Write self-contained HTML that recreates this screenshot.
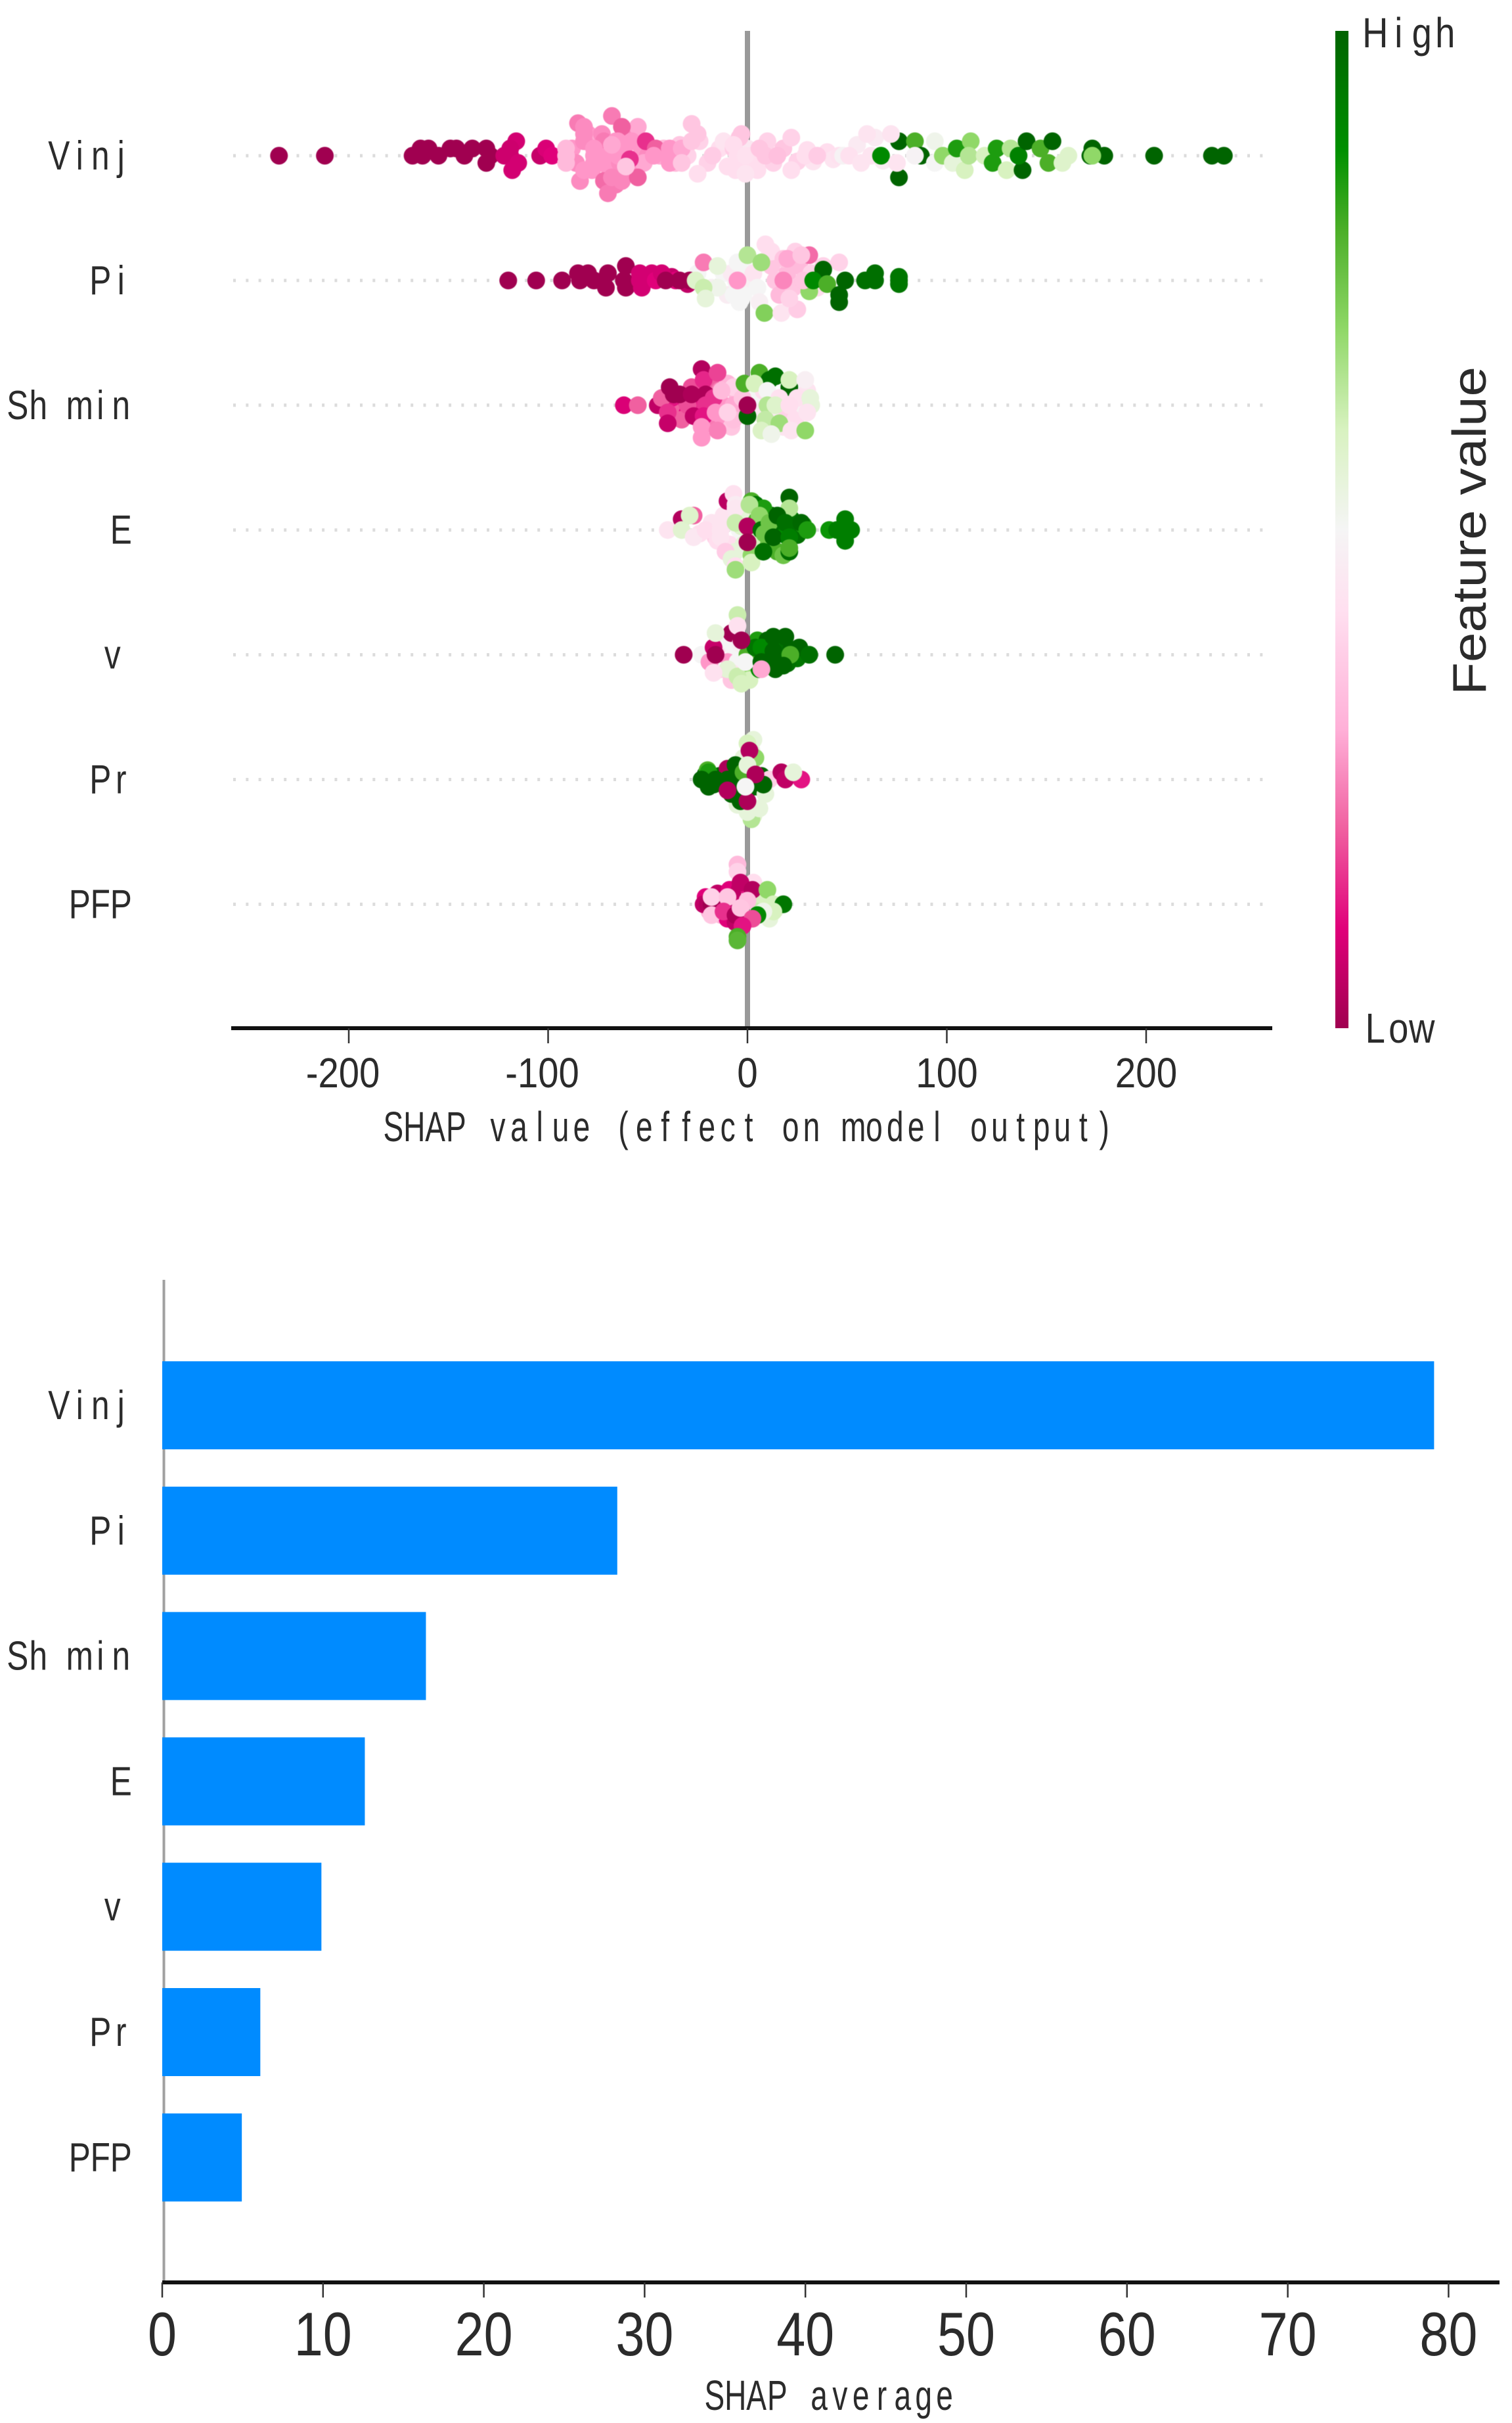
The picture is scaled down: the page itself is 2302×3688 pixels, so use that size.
<!DOCTYPE html>
<html lang="en">
<head>
<meta charset="utf-8">
<title>SHAP summary and average importance</title>
<style>
html,body{margin:0;padding:0;background:#fff;width:2302px;height:3688px;overflow:hidden}
svg{display:block}
text{fill:#2b2b2b}
.sans{font-family:"Liberation Sans","Noto Sans CJK SC",sans-serif}
</style>
</head>
<body>
<svg id="chart" xmlns="http://www.w3.org/2000/svg" width="2302" height="3688" viewBox="0 0 2302 3688">
  <defs>
    <linearGradient id="cbar" x1="0" y1="0" x2="0" y2="1">
      <stop offset="0" stop-color="#006400"/>
      <stop offset="0.12" stop-color="#009000"/>
      <stop offset="0.2" stop-color="#4caf28"/>
      <stop offset="0.3" stop-color="#90d868"/>
      <stop offset="0.4" stop-color="#d8f2c0"/>
      <stop offset="0.5" stop-color="#f5f5f5"/>
      <stop offset="0.58" stop-color="#ffe0f0"/>
      <stop offset="0.7" stop-color="#ffb0d8"/>
      <stop offset="0.8" stop-color="#f060a0"/>
      <stop offset="0.9" stop-color="#e0007a"/>
      <stop offset="1" stop-color="#a00050"/>
    </linearGradient>
  </defs>
  <rect width="2302" height="3688" fill="#fff"/>
  <g id="top"></g>
  <g id="cb">
    <rect x="2033" y="47" width="20" height="1518" fill="url(#cbar)"/>
    <text class="sans" transform="translate(2262,808) rotate(-90)" text-anchor="middle" font-size="72" textLength="500" lengthAdjust="spacingAndGlyphs">Feature value</text>
  </g>
  <g id="bottom"></g>
</svg>
<script>
const features = ["Vinj","Pi","Sh min","E","v","Pr","PFP"];
const shapTicks = [-200,-100,0,100,200];
const avgTicks = [0,10,20,30,40,50,60,70,80];
const shapAverage = [79.1,28.3,16.4,12.6,9.9,6.1,4.95];

const vinjShap = [-88,-86,-80,-78,-75,-73,-72,-70,-66,-62,-60,-57,-53,-50,-74,-78,-69,-64,-60,-72,-66,-58,-52,-44,-42,-36,-34,-30,-24,-20,-14,-10,-12,-6,-4,0,3,5,10,13,18,25,30,33,40,43,55,62,64,68,
-235,-212,-168,-164,-160,-163,-155,-149,-146,-142,-138,-131,-131,-129,-122,-119,-116,-119,-115,-118,-104,-101,-98,-91,-91,-91,-85,-82,-82,-82,-84,-82,-77,-77,-77,-68,-70,-68,-63,-55,-55,-63,-58,-65,-65,-59,-51,-46,-47,-68,-61,-39,-39,-39,-33,-28,-25,-28,-25,-33,-17.5,-7,-4,-5,-2,2,-3,-7,-1,-1,6,9,15,22,22,29,35,46,48,51,57,60,67,76,84,87,76,72,75,84,94,94,98,103,105,109,112,111,119,125,123,132,130,138,136,140,147,153,151,158,161,172,173,179,173,204,233,239];
const vinjValue = [.3,.28,.3,.33,.3,.28,.25,.3,.3,.3,.27,.3,.3,.28,.3,.3,.3,.28,.3,.22,.25,.3,.33,.33,.36,.36,.38,.4,.4,.4,.42,.42,.44,.42,.44,.45,.44,.42,.4,.4,.38,.4,.42,.44,.42,.44,.46,.44,.46,.47,
0,0,0,0,0,0,0,0,0,0,0,0,0,0,.07,.07,.08,.07,.08,.08,.06,.09,.1,.36,.36,.36,.25,.28,.28,.28,.28,.3,.3,.3,.3,.25,.25,.27,.27,.2,.33,.2,.3,.3,.3,.15,.15,.2,.3,.33,.38,.3,.3,.3,.33,.38,.38,.38,.42,.38,.39,.39,.38,.42,.42,.42,.38,.42,.43,.44,.38,.38,.37,.4,.42,.42,.39,.43,.49,.43,.44,.44,.9,1,.8,1,1,.44,.44,.49,.52,.5,.7,.55,.85,.6,.7,.65,.6,.85,.85,.65,.6,1,.92,1,.8,1,.8,.58,.58,1,1,1,.7,1,1,1];
const vinjStack = [1,-1,3,2,1,3,2,0,2,1,3,2,1,0,-1,-2,-2,-1,-2,-3.5,-4,-1,-1,0,1,-1,1.5,0,2,-1,1,-1.5,2,-2,0,1,-1,-2,2,-1,1,-.8,.8,-.8,.5,-.5,1.5,0,2.5,-.7,
0,0,0,1,1,0,0,1,1,0,1,1,-1,0,0,0,2,1,-1,-2,0,1,0,1,0,-1,4.5,4,3,2,-3.5,-2,1,0,-1,5.5,-5.2,-3,-3.5,-3,4,4,2,2,0,-.5,2,1,0,1.5,-1.5,1,0,-1,1,4.4,3,2,-2.5,-1,0,1,2.5,0,-2,0,3,1.5,0,-2.5,1,0,0,2.5,-2,0,0,0,0,0,-1,3,0,2,2,0,-3,3,-1,0,2,-1,0,-1,1,-2,2,0,0,1,-1,1,-2,-2,0,2,1,2,-1,-1,0,0,1,0,0,0,0,0];

const piShap = [-25,-18,-12,-10,-6,-4,-2,0,3,5,10,12,14,16,20,23,26,28,32,35,38,12,18,24,6,-8,-15,-30,-38,-36,
-120,-106,-93,-85,-80,-84,-77,-70,-71,-61,-61,-62,-54,-54,-53,-48,-46,-43,-41,-34,-29,-26,-22,-22,-21,-15,-5,-7,0,-3,7,8.5,-2,-5,9,17,18,20,25,21,31,31,28,27,46,38,33,40,46,46,49,59,64,64,76,76,76];
const piValue = [.5,.48,.5,.47,.5,.5,.5,.48,.44,.5,.45,.38,.38,.36,.36,.38,.36,.35,.4,.42,.4,.42,.38,.4,.48,.46,.52,.05,.06,.1,
0,0,0,0,0,0,0,0,0,0,0,0,.08,.08,.08,.08,.1,.08,0,0,0,.58,.62,.25,.55,.55,.5,.5,.65,.5,.68,.72,.5,.3,.42,.44,.27,.33,.39,.4,.22,.7,.38,.38,.4,1,.9,.8,1,1,1,.97,.97,.97,.95,.95,.95];
const piStack = [1,-1,1,-2,0,-3,2,0,1,-1,3,2,0,-2,1,-1,2,0,1,-1,2,4,3,4,-3,1,-1,-.5,.5,0,
0,0,0,1,1,0,0,1,-1,2,-1,0,1,0,-1,1,0,1,0,0,0,0,-1,2.5,-2.5,2,2.5,-2,3.5,-2.5,2.5,-4.5,-2,0,5,-4.5,0,3,-4,-2.5,3.5,-1.5,0,3.5,2.5,1.5,0,-.5,-2,-3,0,0,1,0,0,.5,-.5];

const shminShap = [-35,-32,-26,-20,-18,-14,-12,-10,-5,-3,-30,-24,-18,-12,-8,3,5,8,12,16,20,24,28,30,18,14,-38,-33,
-62,-55,-45,-43,-40,-40,-30,-28,-39,-37,-34,-28,-23,-22,-15,-21,-17,-21,-27,-22,-16,-23,-23,-15,-7,-7,-13,-2.5,-7,-10,0,0,6,11,14,21,21,29,-1.5,3.5,10,16,25,31.5,10,14,21,32,30,9,16,7,12,22,29];
const shminValue = [.2,.15,.12,.18,.2,.25,.3,.35,.36,.38,.1,.15,.25,.3,.38,.5,.46,.42,.44,.46,.4,.42,.48,.44,.44,.44,.12,.2,
.09,.2,.05,.2,.15,.06,.18,.18,0,0,0,.02,.03,.14,.17,.02,.15,.15,.05,.12,.3,.3,.3,.26,.4,.33,.36,.38,.37,.4,1,0,.8,.97,.97,1,.6,.48,.8,.6,.5,.43,.43,.55,.65,.58,.42,.55,.44,.63,.68,.59,.52,.44,.7];
const shminStack = [0,1,0,1,3,2,0,3,1,-1,-1,-2,-2,-2,-3,1,-1,2,0,-1,-1,-2,0,2,-3,-3,1,-2,
0,0,0,1,-1,-2.5,0,2.5,2.5,1.5,1.5,1.5,5,3.5,4.5,1.5,1,0,-1.5,-1.5,-1,-3,-4.5,-3.5,2.5,0,2,1,-2,-1,-1.5,0,4.5,3.5,4,2.5,3.5,3.5,3,3,2,1,1,1,0,0,0,0,-1,-2,-2.5,-3.5,-4,-3.5,-3.5];

const eShap = [-24,-18,-16,-12,-9,-7,-4,-2,-15,-10,-6,3,5,7,9,12,14,17,19,22,25,28,5,10,15,18,2,-3,
-33,-27,-40,-33,-29,-27,-21,-13.5,-13.5,-13.5,-11,-8,-6,-6,-10,-7,-6,-6,-3,-6,2,4,8,1,6,21,21,0,7,11,8.5,15,19,27,13,21,30,41,45,52,49,49,45,21,21,2,2,8,0];
const eValue = [.42,.44,.4,.44,.42,.45,.5,.55,.42,.44,.55,.8,.75,.9,.85,1,.95,.97,.9,.95,.97,.85,.72,.75,.8,.75,.6,.55,
.03,.2,.44,.57,.58,.45,.42,.44,.44,.44,.39,.55,.42,.68,.04,.43,.47,.45,.58,.62,.8,.95,.85,.65,.7,1,.65,.03,.97,.75,.75,1,.97,.99,1,.93,.85,.87,.87,.93,.93,.93,.93,.97,.8,.7,.6,.97,0];
const eStack = [-.5,1,-1,2,-2,1,0,-2,-1.5,-3,-3,1,-1,2,-2,2,0,.5,-.7,1.5,-.7,.7,-2.5,-2,-3,-3.5,-1.5,2.5,
1.5,2,0,0,2,-1,0,1,0,-1,-3,-4,-5,-5.5,4,5,3.5,3,.5,1,4,3.5,3,3.5,2,4.5,3,.5,0,1,-.5,2,1,1,-1,-1,0,0,0,0,1.5,-1.5,0,-3,-2.5,-3.5,-4.5,-3,-1.7];

const vShap = [-20,-15,-12,-10,-7,-4,-2,0,2,5,8,10,12,15,17,22,25,-13,-6,1,6,10,14,20,
-32,-23,-17,-10,-8,-5,-5,-16,-3.5,-16,-19,-19,-5,-8,-8,-10,-5,-3,-17,0,-1,4,7,13,19,13,13,21,26,31,21.5,7,44,18,7,-16,-3];
const vValue = [.3,.42,.5,.5,.5,.5,.48,.52,.7,.85,1,1,1,.97,1,1,.95,.4,.5,.6,.9,1,1,.97,
0,.5,.06,.3,.0,.62,.43,.55,.48,.5,.05,.3,.5,.43,.38,.56,.62,.6,.43,.8,.5,.95,.9,1,1,1,1,.97,1,.97,.8,1,1,1,.33,0,0];
const vStack = [0,1,-1,2,1,0,-1,1,-2,2,1,2,0,1,-.5,.7,-.5,-2,-3,-3.5,-2,-1,-2,-1.2,
0,0,1,-1,3,5.5,4,3,1.5,-2,-1,-1,-1,-2.5,-3.5,-2,-3,-4,-2.5,0,-1,1,1,2.5,2.5,.5,-1,0,1,0,0,-1,0,-1.5,-2,0,2];

const prShap = [-21,-17,-14,-12,-8,-5,-3,-1,1,3,5,7,9,11,-2,2,-5,-8,-14,-20,
3,0,4,3,2,0,6,-1,1,-10,-19.5,-23,-19.5,-16,-10,-6,-7,-3.5,0,-3.5,8,-10,-2,0,4,17,19,27,23,0,-1];
const prValue = [1,1,1,1,1,1,1,.6,.7,1,1,1,.55,.4,.55,.55,.55,1,1,.8,
.55,.6,.7,.57,.65,.55,.55,.55,.03,.02,.85,1,1,1,1,1,1,1,1,1,1,.03,.8,.55,.02,.03,.05,.12,.55,.02,.5];
const prStack = [.7,-.7,.5,-.5,1,-.5,1,2,1,0,-1,.5,-2,0,3,4,-3.5,-2,-.5,1.3,
5.5,5,3,-5,-5.5,-4.5,-4,-3,4,1.5,1,0,-1,0,0,2,-1,-1.5,-1.5,-3,-.7,-1.5,1,2,.7,1,0,0,1,-3,-1];

const pfpShap = [-21,-19,-15,-13,-9,-7,-4,-2,1,4,6,9,11,14,-10,-6,0,-14,
-5,-5,3,-3.5,2.5,10,13,18,13,8,-22,-20,-18,-18,-18,-10,-12,-6,0,-3.5,5,2.5,-2.5,-5,-5];
const pfpValue = [.1,.35,.05,.35,.1,.06,.05,.1,.5,.6,.62,.6,.55,.55,.1,.05,.12,.2,
.36,.4,.42,.05,.03,.7,.6,.95,.6,.52,.05,.03,0,.38,.4,.38,.15,.02,.37,.38,.9,.18,.12,.8,.78];
const pfpStack = [1,-1,1.5,-1.5,2,0,2,-2.5,1,1,-1,1,-2,-.7,-2,-2.5,2.5,-.5,
5.5,4.5,3,3,2,2,0,0,-1,-1,0,0,0,-1.5,1,1,-1,-1.5,.5,-.5,-1.5,-2,-3,-4.5,-5];

const swarmShap = [vinjShap,piShap,shminShap,eShap,vShap,prShap,pfpShap];
const swarmValue = [vinjValue,piValue,shminValue,eValue,vValue,prValue,pfpValue];
const swarmStack = [vinjStack,piStack,shminStack,eStack,vStack,prStack,pfpStack];

const NS = "http://www.w3.org/2000/svg";
const topG = document.getElementById("top");
const botG = document.getElementById("bottom");
const cbG = document.getElementById("cb");

function xTop(v){ return 1138 + v * 3.035; }
function yTop(i){ return 237 + i * 189.9; }
function xBot(v){ return 247 + v * 24.48; }
function yBot(i){ return 2139 + i * 190.8; }

const colorStops = [[0,[160,0,80]],[.1,[224,0,122]],[.2,[240,96,160]],[.3,[255,150,200]],[.42,[255,222,238]],[.5,[245,245,245]],[.6,[216,242,192]],[.7,[144,216,104]],[.8,[76,175,40]],[.88,[0,144,0]],[1,[0,100,0]]];
function colorOf(f){
  for(let k=1;k<colorStops.length;k++){
    if(f<=colorStops[k][0]){
      const a=colorStops[k-1],b=colorStops[k],t=(f-a[0])/(b[0]-a[0]);
      return "rgb("+a[1].map((c,j)=>Math.round(c+(b[1][j]-c)*t)).join(",")+")";
    }
  }
  return "rgb(0,100,0)";
}
function mk(parent,tag,attrs,txt){
  const e=document.createElementNS(NS,tag);
  for(const k in attrs) e.setAttribute(k,attrs[k]);
  if(txt!==undefined) e.textContent=txt;
  parent.appendChild(e);
  return e;
}
/* half-width (monospaced) Latin setting: each glyph is centred in a fixed cell, as in the reference's Hei font */
function cellText(parent,str,left,y,cell,size,sx){
  const xs=[];
  for(let k=0;k<str.length;k++) xs.push(((left+cell*(k+.5))/sx).toFixed(2));
  return mk(parent,"text",{class:"sans",x:xs.join(" "),y:y,"text-anchor":"middle","font-size":size,transform:"scale("+sx+",1)","xml:space":"preserve"},str);
}
const LABEL_CELL = 31.5;
function labelLeft(name){
  const right = name==="v" ? 187 : 200;
  return right - name.length*LABEL_CELL;
}

/* ---- colorbar end labels ---- */
const hi=cellText(cbG,"High",2076,72,35.5,64,.85);


const lo=cellText(cbG,"Low",2076,1587,35.5,64,.85);



/* ---- beeswarm chart ---- */
features.forEach((name,i)=>{
  const y=yTop(i);
  const guide=mk(topG,"line",{x1:355,x2:1930,y1:y,y2:y,stroke:"#dcdcdc","stroke-width":5,"stroke-dasharray":"4 15.3"});
  
  
  const lab=cellText(topG,name,labelLeft(name),y+21,LABEL_CELL,62,.8);
  
  
});
const zero=mk(topG,"line",{x1:xTop(0),x2:xTop(0),y1:47,y2:1565,stroke:"#999","stroke-width":8});


const dotLayer=mk(topG,"g",{style:"filter:blur(.6px)"});


swarmShap.forEach((row,i)=>{
  row.forEach((v,j)=>{
    const dot=mk(dotLayer,"circle",{cx:xTop(v),cy:yTop(i)-(swarmStack[i][j]||0)*11,r:13.5,fill:colorOf(swarmValue[i][j])});
    
    
  });
});
const axT=mk(topG,"line",{x1:352,x2:1937,y1:1565,y2:1565,stroke:"#111","stroke-width":6});


shapTicks.forEach(t=>{
  const tk=mk(topG,"line",{x1:xTop(t),x2:xTop(t),y1:1565,y2:1588,stroke:"#333","stroke-width":2.5});
  
  
  const s=(t<0?"-":"")+Math.abs(t);
  const digits=String(Math.abs(t));
  const tl=mk(topG,"text",{class:"sans",x:xTop(t)-(t<0?9:0),y:1655,"text-anchor":"middle","font-size":64,textLength:digits.length*31.5+(t<0?18:0),lengthAdjust:"spacingAndGlyphs"},s);
  
  
});
const xtT=cellText(topG,"SHAP value (effect on model output)",583,1737,31.83,64,.72);



/* ---- bar chart ---- */
const vb=mk(botG,"line",{x1:249.5,x2:249.5,y1:1948,y2:3474,stroke:"#a0a0a0","stroke-width":4});


features.forEach((name,i)=>{
  const y=yBot(i);
  const bar=mk(botG,"rect",{x:xBot(0),y:y-67,width:xBot(shapAverage[i])-xBot(0),height:134,fill:"#008bff"});
  
  
  const lab=cellText(botG,name,labelLeft(name),y+21,LABEL_CELL,62,.8);
  
  
});
const axB=mk(botG,"line",{x1:247,x2:2283,y1:3474,y2:3474,stroke:"#111","stroke-width":6});


avgTicks.forEach(t=>{
  const tk=mk(botG,"line",{x1:xBot(t),x2:xBot(t),y1:3474,y2:3497,stroke:"#333","stroke-width":2.5});
  
  
  const s=String(t);
  const tl=mk(botG,"text",{class:"sans",x:xBot(t),y:3585,"text-anchor":"middle","font-size":94,textLength:s.length*44,lengthAdjust:"spacingAndGlyphs"},s);
  
  
});
const xtB=cellText(botG,"SHAP average",1072,3668,31.83,64,.72);


</script>
</body>
</html>
